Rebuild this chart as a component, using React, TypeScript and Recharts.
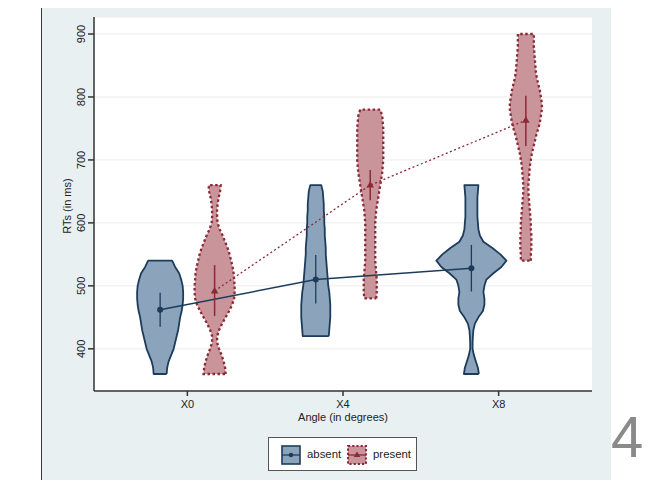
import React from 'react';
import { ComposedChart, Scatter, XAxis, YAxis, CartesianGrid, Label } from 'recharts';

const FONT = '"Liberation Sans", Arial, sans-serif';
const NAVY = '#1d3c5b';
const BLUE_FILL = '#8ba4bc';
const MAROON = '#8b2a36';
const PINK_FILL = '#c9959a';

const ANGLES = ['X0', 'X4', 'X8'];
const ANGLE_POS = [1, 2, 3];
const Y_TICKS = [400, 500, 600, 700, 800, 900];

// mean RT and 95% CI per angle
const absentMean = [462, 510, 528];
const absentLow = [435, 472, 491];
const absentHigh = [489, 549, 565];
const presentMean = [492, 660, 763];
const presentLow = [452, 636, 722];
const presentHigh = [533, 684, 802];

// violin outlines: [RT, half width], bottom to top
const absentX0: [number, number][] = [
  [360, 6.5], [370, 7], [380, 8.5], [390, 11], [400, 13.5], [410, 15], [420, 16.5], [430, 18],
  [440, 19], [450, 20], [460, 21.5], [470, 22.5], [480, 23], [490, 23], [500, 22.5], [510, 21],
  [520, 19], [530, 15], [540, 12],
];
const presentX0: [number, number][] = [
  [360, 11], [370, 10.5], [380, 9], [390, 7], [400, 4.5], [410, 2.5], [420, 2.5], [430, 4.5],
  [440, 7.5], [450, 11], [460, 14.5], [470, 17.5], [480, 19.5], [490, 20], [500, 20], [510, 19.5],
  [520, 19], [530, 18], [540, 16.5], [550, 15], [560, 13], [570, 10.5], [580, 8], [590, 5],
  [600, 3], [610, 2.5], [620, 2.5], [630, 3], [640, 4], [650, 5.5], [660, 6],
];
const absentX4: [number, number][] = [
  [420, 13], [430, 13.5], [440, 14], [450, 14.5], [460, 14.5], [470, 14.5], [480, 14], [490, 13.5],
  [500, 12.5], [510, 12], [520, 11.5], [530, 11], [540, 10.5], [550, 10], [560, 10], [570, 9.5],
  [580, 9], [590, 9], [600, 8.5], [610, 8.5], [620, 8], [630, 8], [640, 7.5], [650, 7], [660, 5.5],
];
const presentX4: [number, number][] = [
  [480, 6], [490, 6.5], [500, 6.5], [510, 6.5], [520, 6], [530, 5.5], [540, 5], [550, 5],
  [560, 5], [570, 5], [580, 5], [590, 5], [600, 5], [610, 5.5], [620, 6], [630, 7], [640, 8],
  [650, 9], [660, 10], [670, 11], [680, 12], [690, 12.5], [700, 13], [710, 13], [720, 13],
  [730, 13], [740, 13], [750, 13], [760, 12.5], [770, 12], [780, 10],
];
const absentX8: [number, number][] = [
  [360, 7.5], [370, 6.5], [380, 4.5], [390, 2.5], [400, 1.2], [410, 1.2], [420, 1.5], [430, 2],
  [440, 3.5], [450, 7], [460, 11.5], [470, 13], [480, 13], [490, 12], [500, 13], [510, 15],
  [520, 22], [530, 30], [540, 35], [550, 29], [560, 21], [570, 12], [580, 8.5], [590, 7],
  [600, 6.5], [610, 6], [620, 6], [630, 6], [640, 6], [650, 6.5], [660, 7],
];
const presentX8: [number, number][] = [
  [540, 5], [550, 5], [560, 5.5], [570, 5.5], [580, 5.5], [590, 5], [600, 5], [610, 4.5],
  [620, 4], [630, 3.5], [640, 3], [650, 2.5], [660, 2.5], [670, 3], [680, 3.5], [690, 4],
  [700, 5], [710, 6], [720, 7.5], [730, 9], [740, 10.5], [750, 12.5], [760, 14], [770, 15],
  [780, 16], [790, 16], [800, 15], [810, 14], [820, 12.5], [830, 11], [840, 10], [850, 9.5],
  [860, 9], [870, 8.5], [880, 8], [890, 8], [900, 8],
];

const OFFSET = 0.175; // absent left of tick, present right
const WIDTH_UNIT = 1 / 155.5; // half width -> category units

function outline(pos: number, shape: [number, number][]) {
  const right = shape.map(([rt, w]) => ({ x: pos + w * WIDTH_UNIT, y: rt }));
  const left = [...shape].reverse().map(([rt, w]) => ({ x: pos - w * WIDTH_UNIT, y: rt }));
  return [...right, ...left, right[0]];
}

const meanPoints = (mean: number[], shift: number) => mean.map((m, i) => ({ x: ANGLE_POS[i] + shift, y: m }));
const ciSegment = (i: number, low: number[], high: number[], shift: number) => [
  { x: ANGLE_POS[i] + shift, y: low[i] },
  { x: ANGLE_POS[i] + shift, y: high[i] },
];

const absentViolins = [absentX0, absentX4, absentX8];
const presentViolins = [presentX0, presentX4, presentX8];

const noPoint = () => <g />;
const dotShape = (p: any) => <circle cx={p.cx} cy={p.cy} r={3} fill={NAVY} />;
const triShape = (p: any) => (
  <path d={`M${p.cx},${p.cy - 4}L${p.cx + 3.8},${p.cy + 2.5}L${p.cx - 3.8},${p.cy + 2.5}Z`} fill={MAROON} />
);

const YTick = (props: any) => {
  const { x, y, payload } = props;
  return (
    <text x={x} y={y} transform={`rotate(-90, ${x}, ${y})`} textAnchor="middle" fontSize={11} fill="#222" fontFamily={FONT}>
      {payload.value}
    </text>
  );
};

export default function App() {
  return (
    <div style={{ position: 'relative', width: 652, height: 488, margin: -8, background: '#fff', overflow: 'hidden' }}>
      <div
        style={{
          position: 'absolute', left: 41, top: 0, width: 570, height: 488, background: '#e9f0f2',
          borderLeft: '1.5px solid #3a3a3a', borderTop: '1.5px solid #3a3a3a', boxSizing: 'border-box',
        }}
      />
      <div style={{ position: 'absolute', left: 0, top: 0 }}>
        <ComposedChart width={652} height={488} margin={{ top: 17, right: 60, bottom: 63, left: 0 }}>
          <CartesianGrid vertical={false} stroke="#ececec" fill="#ffffff" fillOpacity={1} />
          <XAxis
            type="number" dataKey="x" domain={[0.4, 3.6]} ticks={ANGLE_POS} height={34}
            tickFormatter={(v: number) => ANGLES[v - 1]} tickSize={5} tickMargin={4}
            axisLine={{ stroke: '#333', strokeWidth: 1.5 }} tickLine={{ stroke: '#333', strokeWidth: 1.5 }}
            tick={{ fontSize: 11, fill: '#222', fontFamily: FONT }}
          >
            <Label
              content={({ viewBox }: any) => (
                <text x={viewBox.x + viewBox.width / 2} y={viewBox.y + 30} textAnchor="middle" fontSize={11} fill="#222" fontFamily={FONT}>
                  Angle (in degrees)
                </text>
              )}
            />
          </XAxis>
          <YAxis
            type="number" dataKey="y" domain={[333, 927]} ticks={Y_TICKS} width={94}
            tickSize={6} tickMargin={3} tick={<YTick />}
            axisLine={{ stroke: '#333', strokeWidth: 1.5 }} tickLine={{ stroke: '#333', strokeWidth: 1.5 }}
          >
            <Label
              content={({ viewBox }: any) => {
                const x = viewBox.x + 71;
                const y = viewBox.y + viewBox.height / 2 + 2;
                return (
                  <text x={x} y={y} transform={`rotate(-90, ${x}, ${y})`} textAnchor="middle" fontSize={11} fill="#222" fontFamily={FONT}>
                    RTs (in ms)
                  </text>
                );
              }}
            />
          </YAxis>
          {absentViolins.map((v, i) => (
            <Scatter
              key={`a${i}`} data={outline(ANGLE_POS[i] - OFFSET, v)} shape={noPoint} legendType="none"
              line={{ fill: BLUE_FILL, stroke: NAVY, strokeWidth: 1.8, strokeLinejoin: 'round' }}
              lineJointType="linear" isAnimationActive={false}
            />
          ))}
          {presentViolins.map((v, i) => (
            <Scatter
              key={`p${i}`} data={outline(ANGLE_POS[i] + OFFSET, v)} shape={noPoint} legendType="none"
              line={{ fill: PINK_FILL, stroke: MAROON, strokeWidth: 2.3, strokeDasharray: '2.5 2.5' }}
              lineJointType="linear" isAnimationActive={false}
            />
          ))}
          <Scatter
            data={meanPoints(presentMean, OFFSET)} shape={triShape} legendType="none"
            line={{ stroke: MAROON, strokeWidth: 1.3, strokeDasharray: '2 2.5' }} lineJointType="linear"
            isAnimationActive={false}
          />
          <Scatter
            data={meanPoints(absentMean, -OFFSET)} shape={dotShape} legendType="none"
            line={{ stroke: NAVY, strokeWidth: 1.4 }} lineJointType="linear" isAnimationActive={false}
          />
          {ANGLE_POS.map((_, i) => (
            <Scatter
              key={`pci${i}`} data={ciSegment(i, presentLow, presentHigh, OFFSET)} shape={noPoint} legendType="none"
              line={{ stroke: MAROON, strokeWidth: 1.5 }} lineJointType="linear" isAnimationActive={false}
            />
          ))}
          {ANGLE_POS.map((_, i) => (
            <Scatter
              key={`aci${i}`} data={ciSegment(i, absentLow, absentHigh, -OFFSET)} shape={noPoint} legendType="none"
              line={{ stroke: NAVY, strokeWidth: 1.3 }} lineJointType="linear" isAnimationActive={false}
            />
          ))}
        </ComposedChart>
      </div>
      <div
        style={{
          position: 'absolute', left: 268, top: 437, width: 149, height: 34, background: '#fff',
          border: '1px solid #555', boxSizing: 'border-box', fontFamily: FONT, fontSize: 11.4, color: '#222',
        }}
      >
        <svg width={20} height={20} style={{ position: 'absolute', left: 12, top: 7 }}>
          <rect x={1} y={1} width={18} height={18} fill={BLUE_FILL} stroke={NAVY} strokeWidth={1.6} />
          <line x1={1} y1={10} x2={19} y2={10} stroke={NAVY} strokeWidth={1.3} />
          <circle cx={10} cy={10} r={2.3} fill={NAVY} />
        </svg>
        <span style={{ position: 'absolute', left: 38, top: 9, lineHeight: '14px' }}>absent</span>
        <svg width={20} height={20} style={{ position: 'absolute', left: 78, top: 7 }}>
          <rect x={1} y={1} width={18} height={18} fill={PINK_FILL} stroke={MAROON} strokeWidth={2} strokeDasharray="2.2 2" />
          <line x1={1} y1={10} x2={19} y2={10} stroke={MAROON} strokeWidth={1.3} />
          <path d="M10,6.5L13.3,12L6.7,12Z" fill={MAROON} />
        </svg>
        <span style={{ position: 'absolute', left: 104, top: 9, lineHeight: '14px' }}>present</span>
      </div>
      <div
        style={{
          position: 'absolute', left: 611, top: 408, fontSize: 58, lineHeight: '58px', color: '#8a8a8a',
          fontFamily: FONT, fontWeight: 300,
        }}
      >
        4
      </div>
    </div>
  );
}
